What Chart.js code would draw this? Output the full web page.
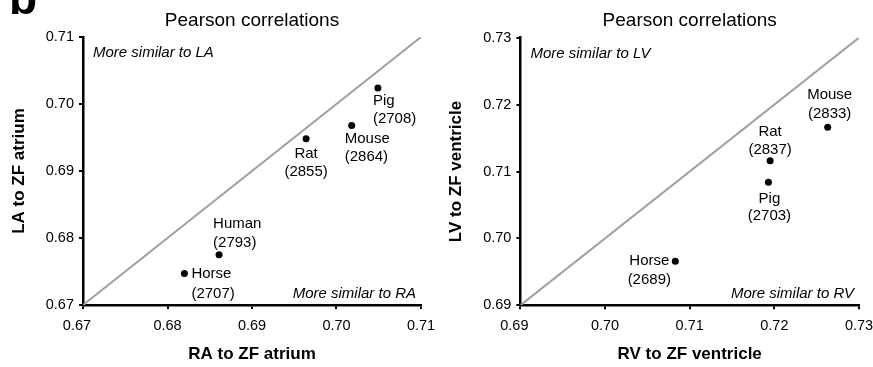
<!DOCTYPE html>
<html>
<head>
<meta charset="utf-8">
<script src="https://cdn.jsdelivr.net/npm/chart.js@4.4.0/dist/chart.umd.min.js"></script>
<style>
  html, body { margin: 0; padding: 0; background: #fff; }
  #wrap { position: relative; width: 873px; height: 367px; overflow: hidden; }
  canvas { position: absolute; top: 0; }
  #panelLetter { position: absolute; left: 9px; top: -25px; font: bold 46px Arial, 'Liberation Sans', sans-serif; line-height: 1; color: #000; }
</style>
</head>
<body>
<div id="wrap">
  <canvas id="atriumChart" width="436" height="367" style="left:0"></canvas>
  <canvas id="ventricleChart" width="437" height="367" style="left:436px"></canvas>
  <div id="panelLetter">b</div>
</div>
<script>
// Data
const atriumSpecies = ['Pig', 'Mouse', 'Rat', 'Human', 'Horse'];
const atriumCounts = [2708, 2864, 2855, 2793, 2707];
const atriumRA = [0.7049, 0.7018, 0.6964, 0.6861, 0.6820];
const atriumLA = [0.7024, 0.6968, 0.6948, 0.6775, 0.6747];
const atriumTicks = [0.67, 0.68, 0.69, 0.70, 0.71];

const ventricleSpecies = ['Mouse', 'Rat', 'Pig', 'Horse'];
const ventricleCounts = [2833, 2837, 2703, 2689];
const ventricleRV = [0.7263, 0.7195, 0.7193, 0.7083];
const ventricleLV = [0.7166, 0.7116, 0.7084, 0.6966];
const ventricleTicks = [0.69, 0.70, 0.71, 0.72, 0.73];

const FONT = "Arial, 'Liberation Sans', Helvetica, sans-serif";
Chart.defaults.font.family = FONT;
Chart.defaults.color = '#000';

// Species labels and corner notes
const pointLabels = {
    id: 'pointLabels',
    afterDatasetsDraw(chart, args, opts) {
        const ctx = chart.ctx;
        const meta = chart.getDatasetMeta(0);
        ctx.save();
        ctx.fillStyle = '#000';
        ctx.textBaseline = 'middle';
        ctx.font = '15px ' + FONT;
        meta.data.forEach((pt, i) => {
            const p = opts.place[opts.names[i]];
            ctx.textAlign = p.align;
            ctx.fillText(opts.names[i], pt.x + p.dx, pt.y + p.dy[0]);
            ctx.fillText('(' + opts.counts[i] + ')', pt.x + p.dx, pt.y + p.dy[1]);
        });

        const a = chart.chartArea;
        ctx.font = 'italic 15px ' + FONT;
        ctx.textAlign = 'left';
        ctx.fillText(opts.topNote, a.left + opts.topDx, a.top + 16);
        ctx.textAlign = 'right';
        ctx.fillText(opts.bottomNote, a.right - 5, a.bottom - 11);
        ctx.restore();
    }
};

function makeChart(id, cfg) {
    const ctx = document.getElementById(id).getContext('2d');
    const lo = cfg.ticks[0];
    const hi = cfg.ticks[cfg.ticks.length - 1];

    const axis = (ticks, title, extra) => Object.assign({
        type: 'linear',
        min: lo,
        max: hi,
        afterBuildTicks: s => { s.ticks = ticks.map(v => ({ value: v })); },
        ticks: {
            callback: v => v.toFixed(2),
            font: { size: 14.5 },
            color: '#000',
            maxRotation: 0,
            autoSkip: false
        },
        grid: { drawOnChartArea: false, color: '#000', lineWidth: 2, tickLength: 4 },
        border: { color: '#000', width: 2.5 },
        title: { display: true, text: title, color: '#000', font: { size: 17, weight: 'bold' } }
    }, extra);

    const xAxis = axis(cfg.ticks, cfg.xTitle, {
        afterFit: s => {
            s.height = cfg.xHeight;
            s.paddingLeft = 0;
            s.paddingRight = 0;
        }
    });
    xAxis.ticks.padding = 8;
    // first label sits a little left of the corner, as in the original
    xAxis.ticks.callback = (v, i) => i === 0 ? v.toFixed(2) + '   ' : v.toFixed(2);
    xAxis.title.padding = { top: 0, bottom: 2.8 };

    const yAxis = axis(cfg.ticks, cfg.yTitle, {
        afterFit: s => {
            s.width = cfg.yWidth;
            s.paddingTop = 0;
            s.paddingBottom = 0;
        }
    });
    yAxis.ticks.padding = 5;
    yAxis.title.padding = { top: 0, bottom: 0 };

    return new Chart(ctx, {
        type: 'scatter',
        data: {
            datasets: [{
                data: cfg.xs.map((x, i) => ({ x: x, y: cfg.ys[i] })),
                backgroundColor: '#000',
                borderColor: '#000',
                pointRadius: 3.5,
                pointBorderWidth: 0
            }, {
                data: [{ x: lo, y: lo }, { x: hi, y: hi }],
                showLine: true,
                borderColor: '#a0a0a0',
                borderWidth: 2,
                pointRadius: 0
            }]
        },
        options: {
            responsive: false,
            animation: false,
            devicePixelRatio: 1,
            layout: { padding: cfg.padding },
            plugins: {
                legend: { display: false },
                tooltip: { enabled: false },
                title: {
                    display: true,
                    text: 'Pearson correlations',
                    fullSize: false,
                    color: '#000',
                    font: { size: 19, weight: 'normal' },
                    padding: cfg.titlePadding
                },
                pointLabels: {
                    names: cfg.names,
                    counts: cfg.counts,
                    place: cfg.place,
                    topNote: cfg.topNote,
                    bottomNote: cfg.bottomNote,
                    topDx: 10
                }
            },
            scales: { x: xAxis, y: yAxis }
        },
        plugins: [pointLabels]
    });
}

makeChart('atriumChart', {
    names: atriumSpecies,
    counts: atriumCounts,
    xs: atriumRA,
    ys: atriumLA,
    ticks: atriumTicks,
    xTitle: 'RA to ZF atrium',
    yTitle: 'LA to ZF atrium',
    topNote: 'More similar to LA',
    bottomNote: 'More similar to RA',
    padding: { left: 8.8, right: 15, top: 0, bottom: 0 },
    yWidth: 74.2,
    titlePadding: { top: 9, bottom: 5.2 },
    xHeight: 62,
    place: {
        Pig: { align: 'left', dx: -5, dy: [13, 31] },
        Mouse: { align: 'left', dx: -7, dy: [13, 31] },
        Rat: { align: 'center', dx: 0, dy: [15, 33] },
        Human: { align: 'left', dx: -6, dy: [-31, -12] },
        Horse: { align: 'left', dx: 7, dy: [0, 20] }
    }
});

makeChart('ventricleChart', {
    names: ventricleSpecies,
    counts: ventricleCounts,
    xs: ventricleRV,
    ys: ventricleLV,
    ticks: ventricleTicks,
    xTitle: 'RV to ZF ventricle',
    yTitle: 'LV to ZF ventricle',
    topNote: 'More similar to LV',
    bottomNote: 'More similar to RV',
    padding: { left: 9.8, right: 14, top: 0, bottom: 0 },
    yWidth: 74.6,
    titlePadding: { top: 9.5, bottom: 5.4 },
    xHeight: 61.7,
    place: {
        Mouse: { align: 'center', dx: 2, dy: [-32, -13] },
        Rat: { align: 'center', dx: 0, dy: [-29, -11] },
        Pig: { align: 'center', dx: 1, dy: [17, 34] },
        Horse: { align: 'center', dx: -26, dy: [0, 19] }
    }
});
</script>
</body>
</html>
